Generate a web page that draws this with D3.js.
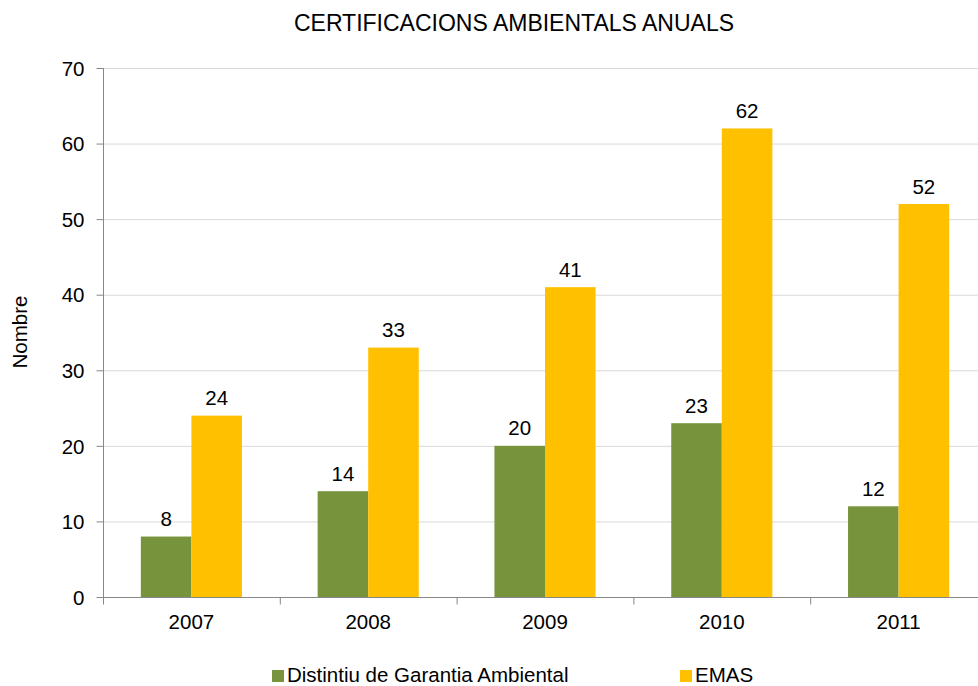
<!DOCTYPE html>
<html>
<head>
<meta charset="utf-8">
<script src="https://cdn.jsdelivr.net/npm/d3@7"></script>
<style>
  body { margin: 0; background: #fff; }
  svg text { font-family: "Liberation Sans", Arial, sans-serif; fill: #000; }
</style>
</head>
<body>
<div id="chart"></div>
<script>
// data
const years = ["2007", "2008", "2009", "2010", "2011"];
const seriesNames = ["Distintiu de Garantia Ambiental", "EMAS"];
const distintiu = [8, 14, 20, 23, 12];
const emas = [24, 33, 41, 62, 52];
const yTicks = [0, 10, 20, 30, 40, 50, 60, 70];
const colors = ["#77933c", "#ffc000"];

const width = 978, height = 686;
const mLeft = 103, mRight = 987, mTop = 68, mBottom = 597;
const fs = "20.5px";

const svg = d3.select("#chart").append("svg")
    .attr("width", width)
    .attr("height", height);

const x = d3.scaleBand().domain(years).range([mLeft, mRight]).paddingInner(0).paddingOuter(0);
const y = d3.scaleLinear().domain([0, 70]).range([mBottom, mTop]);
const barW = x.bandwidth() * 0.286;

// gridlines
svg.append("g")
  .selectAll("line")
  .data(yTicks.slice(1))
  .enter()
  .append("line")
    .attr("x1", mLeft).attr("x2", width)
    .attr("y1", d => y(d) + 0.5).attr("y2", d => y(d) + 0.5)
    .attr("stroke", "#d9d9d9");

// bars
const series = [distintiu, emas];
series.forEach((vals, s) => {
  svg.append("g")
    .selectAll("rect")
    .data(vals)
    .enter()
    .append("rect")
      .attr("x", (d, i) => x(years[i]) + x.bandwidth() / 2 - barW + s * barW)
      .attr("y", d => y(d))
      .attr("width", barW)
      .attr("height", d => mBottom - y(d))
      .attr("fill", colors[s]);

  svg.append("g")
    .selectAll("text")
    .data(vals)
    .enter()
    .append("text")
      .attr("x", (d, i) => x(years[i]) + x.bandwidth() / 2 - barW / 2 + s * barW)
      .attr("y", d => y(d) - 10.5)
      .attr("text-anchor", "middle")
      .attr("font-size", fs)
      .text(d => d);
});

// y axis
const yAxis = svg.append("g")
    .attr("transform", `translate(${mLeft + 0.5},0)`)
    .call(d3.axisLeft(y).tickValues(yTicks).tickSize(7).tickPadding(12));
yAxis.selectAll("text").attr("font-size", fs).attr("dy", "0.35em")
    .style("font-family", "Liberation Sans, Arial, sans-serif");
yAxis.selectAll("line, path").attr("stroke", "#888");
yAxis.select(".domain").attr("d", `M0,${mTop}V${mBottom}`);

// x axis
const xg = svg.append("g").attr("transform", `translate(0,${mBottom + 0.5})`);
xg.append("line").attr("x1", mLeft).attr("x2", width).attr("stroke", "#888");
xg.selectAll(".tk")
  .data(years.concat(["end"]))
  .enter()
  .append("line")
    .attr("x1", (d, i) => mLeft + i * x.step() + 0.5)
    .attr("x2", (d, i) => mLeft + i * x.step() + 0.5)
    .attr("y1", 0).attr("y2", 7)
    .attr("stroke", "#888");
xg.selectAll("text")
  .data(years)
  .enter()
  .append("text")
    .attr("x", d => x(d) + x.bandwidth() / 2)
    .attr("y", 31.5)
    .attr("text-anchor", "middle")
    .attr("font-size", fs)
    .text(d => d);

// title
svg.append("text")
    .attr("x", 514).attr("y", 31)
    .attr("text-anchor", "middle")
    .attr("font-size", "23px")
    .text("CERTIFICACIONS AMBIENTALS ANUALS");

// y label
svg.append("text")
    .attr("transform", `translate(27,332) rotate(-90)`)
    .attr("text-anchor", "middle")
    .attr("font-size", fs)
    .text("Nombre");

// legend
const legendX = [272, 680];
seriesNames.forEach((name, s) => {
  svg.append("rect")
    .attr("x", legendX[s]).attr("y", 670)
    .attr("width", 12).attr("height", 12)
    .attr("fill", colors[s]);
  svg.append("text")
    .attr("x", legendX[s] + 15).attr("y", 682)
    .attr("font-size", fs)
    .text(name);
});
</script>
</body>
</html>
